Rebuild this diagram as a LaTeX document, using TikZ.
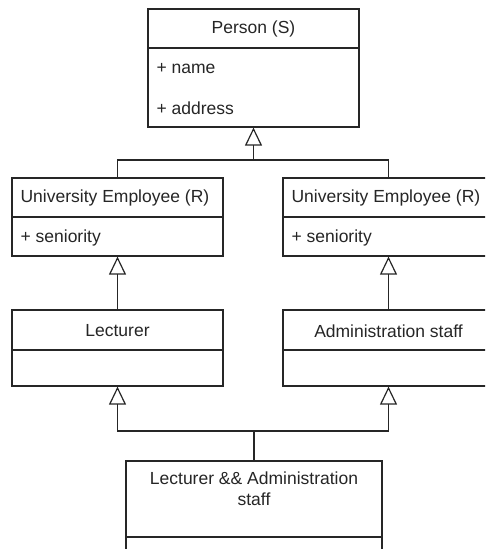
\documentclass[tikz,border=0pt]{standalone}
\usepackage{fontspec}
\setmainfont{Liberation Sans}
\usetikzlibrary{arrows.meta}
\begin{document}
\begin{tikzpicture}[x=1pt,y=-1pt,
  line width=1.2pt,
  umlbox/.style={draw=black!85, fill=white, rectangle, inner sep=0pt, minimum width=211pt},
  lbl/.style={text=black!85, inner sep=0pt, font=\fontsize{17.5}{21}\selectfont},
  gen/.style={draw=black!85, -{Triangle[open,length=18pt,width=17pt]}},
  link/.style={draw=black!85}
]
\useasboundingbox (0,0) rectangle (485,549);
\clip (0,0) rectangle (485,549);

% classes
\node[umlbox, minimum height=118pt] (person) at (253.5,68) {};
\node[umlbox, minimum height=78pt] (ueL) at (117.5,217) {};
\node[umlbox, minimum height=78pt] (ueR) at (388.5,217) {};
\node[umlbox, minimum height=76pt] (lect) at (117.5,348) {};
\node[umlbox, minimum height=76pt] (admin) at (388.5,348) {};
\node[umlbox, minimum width=256pt, minimum height=119pt] (combo) at (254,520.5) {};

% compartment dividers
\draw[link] (person.west |- 0,48) -- (person.east |- 0,48);
\draw[link] (ueL.west |- 0,217) -- (ueL.east |- 0,217);
\draw[link] (ueR.west |- 0,217) -- (ueR.east |- 0,217);
\draw[link] (lect.west |- 0,350) -- (lect.east |- 0,350);
\draw[link] (admin.west |- 0,350) -- (admin.east |- 0,350);
\draw[link] (combo.west |- 0,537) -- (combo.east |- 0,537);

% texts
\node[lbl] (tPerson) at (253.5,29) {Person (S)};
\node[lbl, anchor=west] (tName) at (156,69) {+ name};
\node[lbl, anchor=west] (tAddr) at (156,108) {+ address};
\node[lbl, anchor=west] (tUeL) at (20,198) {University Employee (R)};
\node[lbl, anchor=west] (tSenL) at (20,238) {+ seniority};
\node[lbl, anchor=west] (tUeR) at (291,198) {University Employee (R)};
\node[lbl, anchor=west] (tSenR) at (291,238) {+ seniority};
\node[lbl] (tLect) at (117.5,331) {Lecturer};
\node[lbl] (tAdmin) at (388.5,331) {Administration staff};
\node[lbl] (tCombo1) at (254,478) {Lecturer \&\& Administration};
\node[lbl] (tCombo2) at (254,499) {staff};

% generalisations
\coordinate (j1) at (253.5,160);
\coordinate (j2) at (254,431);
\draw[gen] (j1) -- (person.south);
\draw[link] (ueL.north) |- (j1) -| (ueR.north);
\draw[gen] (lect.north) -- (ueL.south);
\draw[gen] (admin.north) -- (ueR.south);
\draw[gen] (j2) -| (lect.south);
\draw[gen] (j2) -| (admin.south);
\draw[link] (combo.north) -- (j2);
\end{tikzpicture}
\end{document}
